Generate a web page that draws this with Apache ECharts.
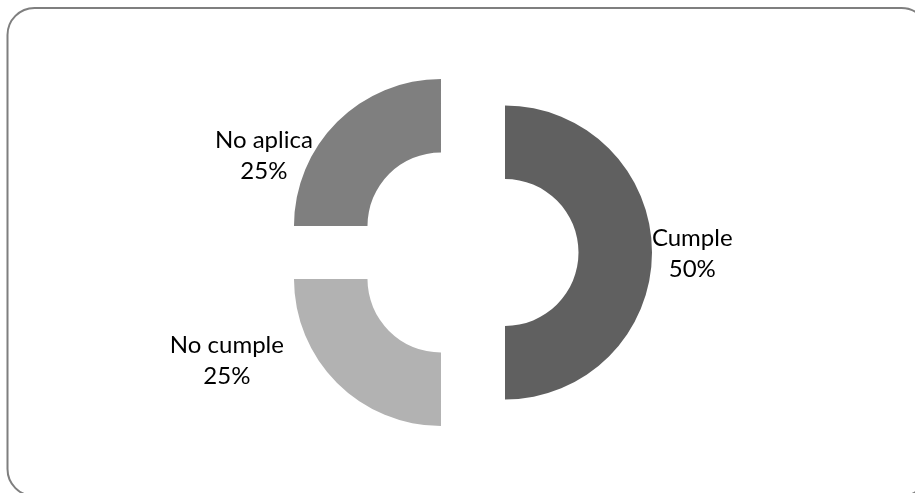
<!DOCTYPE html>
<html>
<head>
<meta charset="utf-8">
<script src="https://cdn.jsdelivr.net/npm/echarts@6/dist/echarts.min.js"></script>
<style>
  html, body { margin: 0; padding: 0; background: #ffffff; }
  #chart { width: 915px; height: 493px; }
</style>
</head>
<body>
<div id="chart"></div>
<script>
// Compliance breakdown (percent of items)
const categories = ['Cumple', 'No cumple', 'No aplica'];
const values = [50, 25, 25];
const colors = ['#606060', '#b2b2b2', '#7f7f7f'];

// Label box padding [top, right, bottom, left]: pushes each label
// from the middle of its ring segment out beside the segment
const labelPads = [
  [2, 0, 0, 148],
  [4, 268, 0, 0],
  [19, 194, 0, 0]
];

const textStyle = {
  fontFamily: 'Lato',
  fontSize: 24,
  lineHeight: 31,
  color: '#000000'
};

const chart = echarts.init(document.getElementById('chart'), null, { renderer: 'canvas' });

chart.setOption({
  animation: false,
  backgroundColor: '#ffffff',
  graphic: [{
    type: 'rect',
    shape: { x: 7.5, y: 8, width: 921, height: 488, r: 27 },
    style: { fill: 'none', stroke: '#7f7f7f', lineWidth: 2 },
    silent: true,
    z: 0
  }],
  series: [{
    type: 'pie',
    center: [467.5, 252.5],
    radius: [73.5, 147],
    startAngle: 90,
    clockwise: true,
    selectedMode: 'multiple',
    selectedOffset: 37.5,
    silent: true,
    avoidLabelOverlap: false,
    emphasis: { disabled: true },
    itemStyle: { borderWidth: 0 },
    labelLine: { show: false },
    label: Object.assign({
      show: true,
      position: 'inside',
      align: 'center',
      verticalAlign: 'middle',
      formatter: p => '{t|' + p.name + '}\n{t|' + Math.round(p.percent) + '%}',
      rich: { t: Object.assign({ align: 'center' }, textStyle) }
    }, textStyle),
    data: categories.map((name, i) => ({
      name: name,
      value: values[i],
      selected: true,
      itemStyle: { color: colors[i] },
      label: { padding: labelPads[i] }
    }))
  }]
});
</script>
</body>
</html>
